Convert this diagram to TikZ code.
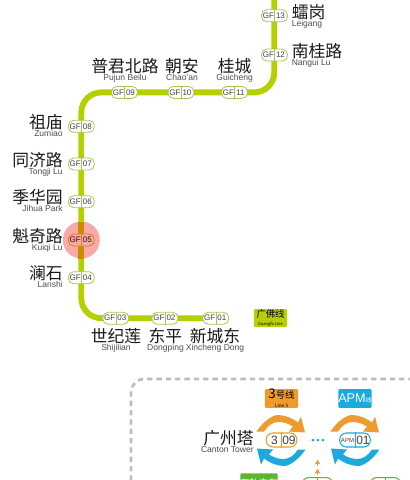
\documentclass[tikz,border=0pt]{standalone}
\usepackage{fontspec}
\setmainfont{Liberation Sans}
\newfontfamily\cjk{Noto Sans CJK SC}
\usetikzlibrary{calc, positioning}
\usetikzlibrary{arrows.meta}
\definecolor{gfline}{HTML}{B5CF00}
\definecolor{gfedge}{HTML}{A9C45A}
\definecolor{hilite}{HTML}{F9A9A9}
\definecolor{hiline}{HTML}{CC8A00}
\definecolor{lineorange}{HTML}{EE9A2D}
\definecolor{lineblue}{HTML}{1CAADE}
\definecolor{tramgreen}{HTML}{5DB52F}
\definecolor{boxgrey}{HTML}{BDBDBD}
\tikzset{
  station/.style={draw=gfedge, line width=0.6pt, fill=white, rounded corners=4pt, minimum width=19.5pt, minimum height=9pt, inner sep=0pt},
  bigstation/.style={station, line width=0.8pt, rounded corners=5pt, minimum width=23pt, minimum height=10.5pt},
  codetext/.style={font=\fontsize{6}{6}\selectfont, text=black!75, inner sep=0pt},
  bigcode/.style={codetext, font=\fontsize{9}{9}\selectfont},
  zhname/.style={font=\cjk\fontsize{12.6}{13}\selectfont, text=black!90, inner sep=0pt},
  enname/.style={font=\fontsize{6.4}{6.4}\selectfont, text=black!70, inner sep=0pt},
  linetag/.style={rounded corners=1pt, minimum width=25pt, minimum height=13.5pt, inner sep=0pt, align=center},
}
% station marker: name, x, y, number
\newcommand{\gfstation}[4]{
  \node[station] (#1) at (#2,#3) {};
  \draw[gfedge, line width=0.4pt] (#1.north) -- (#1.south);
  \node[codetext] at ($(#1.center)+(-6,0)$) {GF};
  \node[codetext] at ($(#1.center)+(6,0)$) {#4};
}
% pair of turning arrows round a station: x, y
\newcommand{\turnarrows}[2]{
  \begin{scope}[shift={(#1,#2)}]
    \fill[lineorange] (-24.5,-9) .. controls (-17,-20) and (-8,-25.5) .. (-3,-25.5)
      .. controls (4,-25.5) and (12,-22) .. (17,-18) -- (20,-24) -- (24,-8) -- (8,-9) -- (12,-14)
      .. controls (7,-17) and (3,-18.5) .. (-3,-18.5) .. controls (-8,-18.5) and (-13,-15) .. (-17,-9) -- cycle;
    \fill[lineblue, rotate=180] (-24.5,-9) .. controls (-17,-20) and (-8,-25.5) .. (-3,-25.5)
      .. controls (4,-25.5) and (12,-22) .. (17,-18) -- (20,-24) -- (24,-8) -- (8,-9) -- (12,-14)
      .. controls (7,-17) and (3,-18.5) .. (-3,-18.5) .. controls (-8,-18.5) and (-13,-15) .. (-17,-9) -- cycle;
  \end{scope}
}
\begin{document}
\begin{tikzpicture}[x=0.75pt,y=-0.75pt]
\useasboundingbox (0,0) rectangle (410,480);

\coordinate (linetop) at (274.3,-5);
\coordinate (bendne) at (274.3,92.4);
\coordinate (bendnw) at (81.3,92.4);
\coordinate (bendsw) at (81.3,318.2);
\coordinate (lineend) at (215,318.2);

% line
\draw[gfline, line width=4.4pt, rounded corners=15pt] (linetop) -- (bendne) -- (bendnw) -- (bendsw) -- (lineend);

% highlight
\fill[hilite] (81.3,240) circle[radius=18.5];
\draw[hiline, line width=4.4pt] (81.3,221.5) -- (81.3,258.5);

\gfstation{gf13}{274.5}{15.7}{13}
\gfstation{gf12}{274.5}{55}{12}
\gfstation{gf11}{234.5}{92.4}{11}
\gfstation{gf10}{181}{92.4}{10}
\gfstation{gf09}{124.5}{92.4}{09}
\gfstation{gf08}{81.3}{126.3}{08}
\gfstation{gf07}{81.3}{164}{07}
\gfstation{gf06}{81.3}{201.7}{06}
\node[station, draw=hiline, fill=hilite] (gf05) at (81.3,240) {};
\draw[hiline, line width=0.4pt] (gf05.north) -- (gf05.south);
\node[codetext, text=black!75!red] at ($(gf05.center)+(-6,0)$) {GF};
\node[codetext, text=black!75!red] at ($(gf05.center)+(6,0)$) {05};
\gfstation{gf04}{81.3}{277.7}{04}
\gfstation{gf03}{115.8}{318.2}{03}
\gfstation{gf02}{165}{318.2}{02}
\gfstation{gf01}{215.8}{318.2}{01}

% names, left side
\node[zhname, anchor=east] (zumiao) at (63,122.5) {祖庙};
\node[enname, anchor=north east] at (zumiao.south east) {Zumiao};
\node[zhname, anchor=east] (tongji) at (63,160) {同济路};
\node[enname, anchor=north east] at (tongji.south east) {Tongji Lu};
\node[zhname, anchor=east] (jihua) at (63,197.5) {季华园};
\node[enname, anchor=north east] at (jihua.south east) {Jihua Park};
\node[zhname, anchor=east] (kuiqi) at (63,236) {魁奇路};
\node[enname, anchor=north east] at (kuiqi.south east) {Kuiqi Lu};
\node[zhname, anchor=east] (lanshi) at (63,273) {澜石};
\node[enname, anchor=north east] at (lanshi.south east) {Lanshi};

% names, top
\node[zhname] (pujun) at (125,66.5) {普君北路};
\node[enname, anchor=north] at (pujun.south) {Pujun Beilu};
\node[zhname] (chaoan) at (182,66.5) {朝安};
\node[enname, anchor=north] at (chaoan.south) {Chao'an};
\node[zhname] (guicheng) at (234.7,66.5) {桂城};
\node[enname, anchor=north] at (guicheng.south) {Guicheng};

% names, right side
\node[zhname, anchor=west] (leigang) at (291.5,12) {𧒽岗};
\node[enname, anchor=north west] at (leigang.south west) {Leigang};
\node[zhname, anchor=west] (nangui) at (291.5,51) {南桂路};
\node[enname, anchor=north west] at (nangui.south west) {Nangui Lu};

% names, bottom
\node[zhname] (shijilian) at (116,336) {世纪莲};
\node[enname, anchor=north] at (shijilian.south) {Shijilian};
\node[zhname] (dongping) at (165.5,336) {东平};
\node[enname, anchor=north] at (dongping.south) {Dongping};
\node[zhname] (xincheng) at (215,336) {新城东};
\node[enname, anchor=north] at (xincheng.south) {Xincheng Dong};

% line tag
\node[linetag, fill=gfline, font=\cjk\fontsize{7}{7}\selectfont] (gftag) at (270.5,318) {广佛线\\[-1pt]{\fontsize{3}{3}\selectfont Guangfo Line}};

% interchange panel
\draw[boxgrey, line width=2pt, dash pattern=on 4pt off 3pt, rounded corners=10pt] (131,490) -- (131,379) -- (420,379);

\node[linetag, fill=lineorange, font=\cjk\fontsize{7}{7}\selectfont, minimum height=14.2pt] (line3) at (281.5,398.5) {{\fontsize{10}{7}\selectfont 3}号线\\[-0.5pt]{\fontsize{3.5}{3.5}\selectfont Line 3}};
\node[linetag, fill=lineblue, text=white, font=\fontsize{9.5}{9.5}\selectfont, minimum height=14.2pt] (lineapm) at (355,398.5) {APM{\cjk\fontsize{4.5}{4.5}\selectfont 线}};

\turnarrows{281}{440.5}
\turnarrows{355}{440.5}

\node[bigstation, draw=lineorange] (st309) at (281.5,440) {};
\draw[lineorange, line width=0.6pt] (st309.north) -- (st309.south);
\node[bigcode] at ($(st309.center)+(-7,0)$) {3};
\node[bigcode] at ($(st309.center)+(7.5,0)$) {09};
\node[bigstation, draw=lineblue] (st01) at (355,440) {};
\draw[lineblue, line width=0.6pt] (st01.north) -- (st01.south);
\node[codetext, font=\fontsize{4.5}{4.5}\selectfont] at ($(st01.center)+(-7.5,0)$) {APM};
\node[bigcode] at ($(st01.center)+(8,0)$) {01};

\node[zhname, anchor=east] (canton) at (254,438.5) {广州塔};
\node[enname, anchor=north east] at (canton.south east) {Canton Tower};

% dots between the stations
\foreach \dotx in {313,318,323}
  \fill[lineblue] (\dotx,440) circle[radius=1.5];

% small arrows
\foreach \upy in {466,475}
  \draw[lineorange, line width=1.4pt, -{Stealth[length=3.5pt,width=4.5pt]}] (317.5,\upy) -- ++(0,-6);

% bottom row, cut by the page edge
\node[linetag, fill=tramgreen, text=white, font=\cjk\fontsize{7}{7}\selectfont, minimum width=28pt, minimum height=15pt, anchor=north] (tramtag) at (259,473) {有轨电车};
\node[bigstation, draw=tramgreen, anchor=north] (tram1) at (317.5,477) {};
\draw[tramgreen, line width=0.6pt] (tram1.north) -- (tram1.south);
\node[bigstation, draw=tramgreen, anchor=north] (tram2) at (385.5,477) {};
\draw[tramgreen, line width=0.6pt] (tram2.north) -- (tram2.south);
\end{tikzpicture}
\end{document}
